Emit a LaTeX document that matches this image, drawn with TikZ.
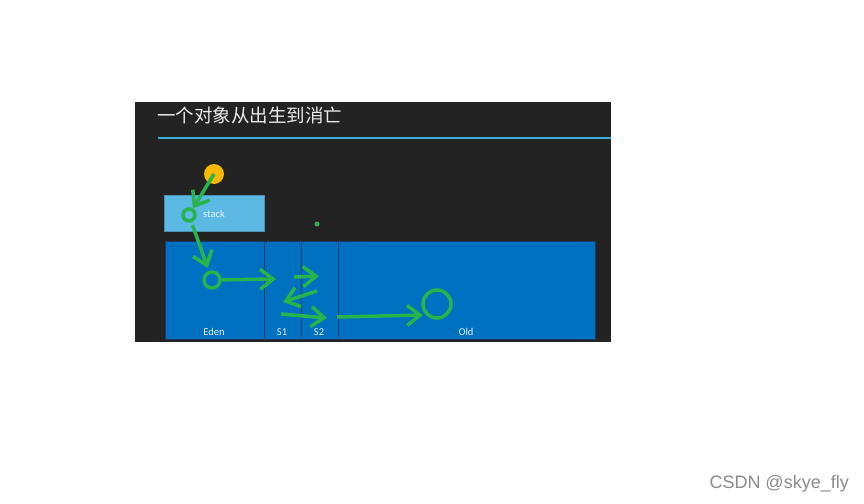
\documentclass[tikz,border=0pt]{standalone}
\usepackage{fontspec}
\setmainfont{Carlito}
\newfontfamily\cjk{Noto Sans CJK SC}
\newfontfamily\wmfont{Liberation Sans}
\usetikzlibrary{arrows.meta}
\tikzset{>={Straight Barb[width=20pt,length=13pt]}}
\definecolor{board}{HTML}{232323}
\definecolor{heapblue}{HTML}{0070C0}
\definecolor{stackblue}{HTML}{5BB9E4}
\definecolor{edge}{HTML}{1C3A63}
\definecolor{objgreen}{HTML}{27B44A}
\definecolor{coin}{HTML}{F6B800}
\definecolor{rule}{HTML}{3AAED8}

\begin{document}
\begin{tikzpicture}[x=1pt, y=-1pt]
      \tikzstyle{area} = [draw=edge, fill=heapblue, line width=1pt, inner sep=0pt, anchor=north west]
      \tikzstyle{lbl} = [text=white!90!heapblue, font=\fontsize{10.5}{11}\selectfont, inner sep=0pt]
      \tikzstyle{obj} = [circle, draw=objgreen, line width=3.5pt, inner sep=0pt]
      \tikzstyle{flow} = [draw=objgreen, line width=3.5pt, ->]

      \useasboundingbox (0,0) rectangle (864,503);
      \fill[white] (0,0) rectangle (864,503);
      \fill[board] (135,102) rectangle (611,342);

      \node[anchor=west, text=white!92!black, inner sep=0pt] (title) at (157,115)
        {\cjk\fontsize{18.5}{20}\selectfont 一个对象从出生到消亡};
      \draw[rule, line width=2pt] (158,138) -- (611,138);

      % stack and heap
      \node[area, draw=stackblue!80!black, fill=stackblue, minimum width=100pt, minimum height=36pt] (stack) at (164,195) {};
      \node[lbl] (stacklbl) at (214,214) {stack};

      \node[area, minimum width=99pt, minimum height=98pt] (eden) at (165,241) {};
      \node[area, minimum width=37pt, minimum height=98pt] (sone) at (264,241) {};
      \node[area, minimum width=37pt, minimum height=98pt] (stwo) at (301,241) {};
      \node[area, minimum width=257pt, minimum height=98pt] (old) at (338,241) {};

      \node[lbl] (edenlbl) at (214,332) {Eden};
      \node[lbl] (sonelbl) at (282,332) {S1};
      \node[lbl] (stwolbl) at (319,332) {S2};
      \node[lbl] (oldlbl) at (466,332) {Old};

      % the object
      \node[circle, fill=coin, minimum size=20pt, inner sep=0pt] (born) at (214,174) {};
      \node[obj, minimum size=12pt] (objstack) at (189,215) {};
      \node[obj, minimum size=16pt] (objeden) at (212,280) {};
      \node[obj, minimum size=28pt] (objold) at (437,304) {};
      \node[circle, fill=objgreen, minimum size=5pt, inner sep=0pt] (dot) at (317,224) {};

      \coordinate (edenout) at (276,279);
      \coordinate (s1a) at (294,277);
      \coordinate (s2a) at (319,276);
      \coordinate (s2b) at (317,291);
      \coordinate (s1b) at (283,302);
      \coordinate (s1c) at (281,314);
      \coordinate (s2c) at (327,318);
      \coordinate (oldin) at (337,317);
      \coordinate (oldend) at (423,315);

      \draw[flow] (born.center) to (objstack);
      \draw[flow, shorten <=3pt, shorten >=3pt] (objstack) to (objeden);
      \draw[flow] (objeden) to (edenout);
      \draw[flow] (s1a) to (s2a);
      \draw[flow] (s2b) to (s1b);
      \draw[flow] (s1c) to (s2c);
      \draw[flow] (oldin) to (oldend);

      \node[anchor=east, text=black!45, inner sep=0pt] (mark) at (849,484)
        {\wmfont\fontsize{18}{20}\selectfont CSDN @skye\_fly};
\end{tikzpicture}
\end{document}
